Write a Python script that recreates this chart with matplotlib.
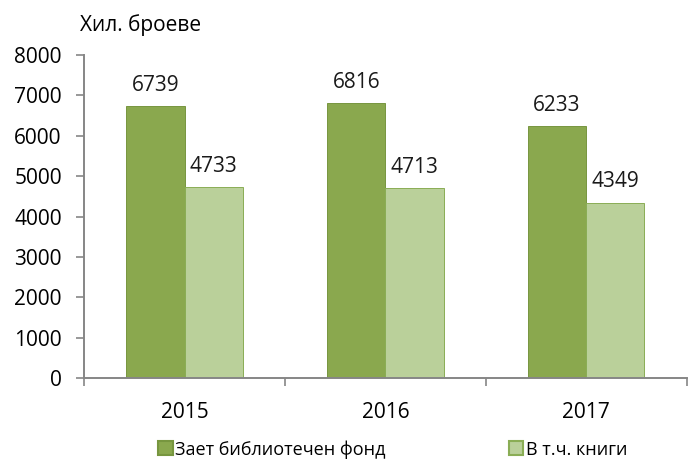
import matplotlib.pyplot as plt
import numpy as np

plt.rcParams['font.family'] = ['Open Sans', 'DejaVu Sans']

years = ['2015', '2016', '2017']
fund = [6739, 6816, 6233]
books = [4733, 4713, 4349]
series_names = ['Зает библиотечен фонд', 'В т.ч. книги']

dark = '#8aa84e'
light = '#bad09a'
axis_col = '#868686'
bar_width = 0.29

fig = plt.figure(figsize=(6.95, 4.59), dpi=100)
ax = fig.add_axes([0.121, 0.176, 0.867, 0.704])

x = np.arange(len(years))
b1 = ax.bar(x - bar_width / 2, fund, width=bar_width, color=dark,
            edgecolor='#77963f', linewidth=0.7, label=series_names[0])
b2 = ax.bar(x + bar_width / 2, books, width=bar_width, color=light,
            edgecolor='#8aad55', linewidth=0.7, label=series_names[1])

for xi, v in zip(x - bar_width / 2, fund):
    ax.text(xi, v + 250, str(v), ha='center', va='bottom', fontsize=15, color='#1a1a1a')
for xi, v in zip(x + bar_width / 2, books):
    ax.text(xi, v + 250, str(v), ha='center', va='bottom', fontsize=15, color='#1a1a1a')

ax.set_xlim(-0.5, 2.5)
ax.set_ylim(0, 8000)
ax.set_yticks(np.arange(0, 8001, 1000))
ax.set_xticks(x)
ax.set_xticklabels(years)
ax.set_xticks(np.arange(-0.5, 2.6, 1), minor=True)
ax.tick_params(axis='x', which='major', length=0, pad=17, labelsize=15)
ax.tick_params(axis='x', which='minor', length=6, color=axis_col, width=1.2, direction='out')
ax.tick_params(axis='y', length=6, color=axis_col, width=1.2, pad=10, labelsize=15)

for s in ['top', 'right']:
    ax.spines[s].set_visible(False)
for s in ['left', 'bottom']:
    ax.spines[s].set_color(axis_col)
    ax.spines[s].set_linewidth(1.4)

fig.text(0.115, 0.946, 'Хил. броеве', fontsize=15, ha='left', va='center')

leg = fig.legend(handles=[b1, b2], loc='center', bbox_to_anchor=(0.565, 0.021), ncol=2,
                 frameon=False, fontsize=13, handlelength=0.8, handleheight=0.8,
                 handletextpad=0.15, columnspacing=6.8)
for h in leg.legend_handles:
    h.set_linewidth(1.5)

fig.savefig('out.png', dpi=100)
